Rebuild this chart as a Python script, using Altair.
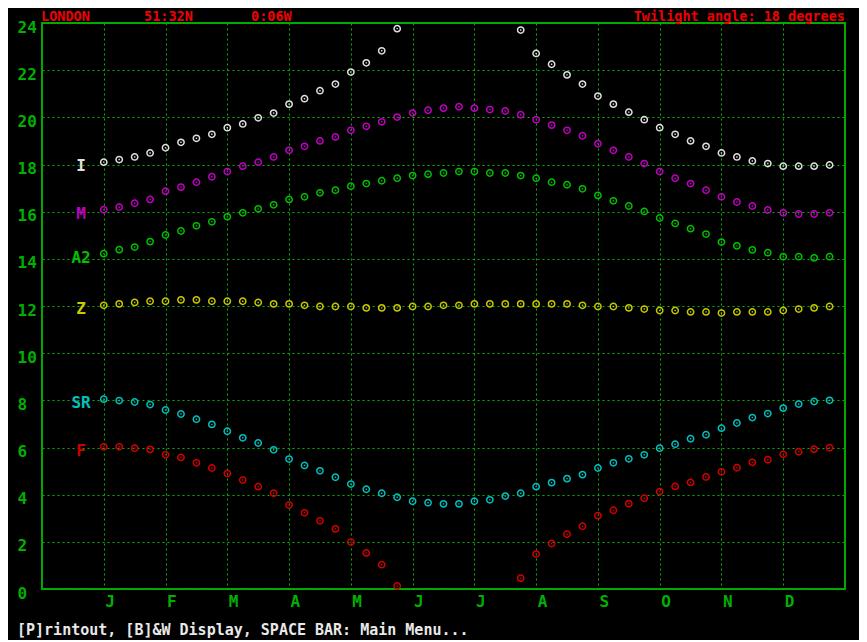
import json
import altair as alt
import pandas as pd

# ---- data ----
series = ["I", "M", "A2", "Z", "SR", "F"]
colors = ["#e0e0e0", "#c000c0", "#00c000", "#c8c800", "#00c0c0", "#d00000"]

months = ["J", "F", "M", "A", "M", "J", "J", "A", "S", "O", "N", "D"]

week = [1.0, 1.25, 1.5, 1.75, 2.0, 2.25, 2.5, 2.75, 3.0, 3.25, 3.5, 3.75,
        4.0, 4.25, 4.5, 4.75, 5.0, 5.25, 5.5, 5.75, 6.0, 6.25, 6.5, 6.75,
        7.0, 7.25, 7.5, 7.75, 8.0, 8.25, 8.5, 8.75, 9.0, 9.25, 9.5, 9.75,
        10.0, 10.25, 10.5, 10.75, 11.0, 11.25, 11.5, 11.75, 12.0, 12.25, 12.5, 12.75]

I_vals = [18.10, 18.21, 18.32, 18.49, 18.71, 18.94, 19.11, 19.28, 19.56, 19.72, 19.98, 20.18,
          20.56, 20.79, 21.13, 21.41, 21.92, 22.31, 22.82, 23.76, None, None, None, None,
          None, None, None, 23.70, 22.71, 22.25, 21.80, 21.41, 20.90, 20.56, 20.22, 19.90,
          19.56, 19.28, 19.00, 18.77, 18.49, 18.32, 18.15, 18.04, 17.93, 17.93, 17.93, 17.98]

M_vals = [16.08, 16.19, 16.36, 16.52, 16.87, 17.04, 17.25, 17.48, 17.70, 17.93, 18.10, 18.32,
          18.60, 18.77, 19.00, 19.17, 19.45, 19.62, 19.81, 20.01, 20.18, 20.30, 20.39, 20.45,
          20.39, 20.33, 20.27, 20.11, 19.90, 19.67, 19.45, 19.22, 18.88, 18.60, 18.32, 18.04,
          17.70, 17.42, 17.19, 16.91, 16.63, 16.41, 16.24, 16.07, 15.95, 15.90, 15.90, 15.95]

A2_vals = [14.22, 14.39, 14.50, 14.73, 15.01, 15.18, 15.40, 15.57, 15.78, 15.95, 16.12, 16.29,
           16.52, 16.63, 16.80, 16.91, 17.08, 17.19, 17.31, 17.42, 17.53, 17.59, 17.64, 17.70,
           17.70, 17.64, 17.64, 17.53, 17.42, 17.25, 17.14, 16.97, 16.69, 16.46, 16.24, 16.01,
           15.73, 15.50, 15.28, 15.05, 14.71, 14.55, 14.38, 14.26, 14.09, 14.09, 14.04, 14.09]

Z_vals = [12.03, 12.09, 12.15, 12.20, 12.20, 12.26, 12.26, 12.20, 12.20, 12.20, 12.15, 12.09,
          12.09, 12.03, 11.98, 11.98, 11.98, 11.92, 11.92, 11.92, 11.98, 11.98, 12.03, 12.03,
          12.09, 12.09, 12.09, 12.09, 12.09, 12.09, 12.09, 12.03, 11.98, 11.98, 11.92, 11.87,
          11.81, 11.81, 11.75, 11.75, 11.70, 11.75, 11.75, 11.75, 11.81, 11.87, 11.92, 11.98]

SR_vals = [8.05, 7.99, 7.93, 7.82, 7.59, 7.42, 7.20, 6.98, 6.69, 6.41, 6.19, 5.90,
           5.51, 5.24, 5.01, 4.74, 4.45, 4.23, 4.06, 3.89, 3.72, 3.66, 3.61, 3.61,
           3.72, 3.78, 3.94, 4.06, 4.34, 4.51, 4.68, 4.85, 5.13, 5.35, 5.52, 5.69,
           5.97, 6.14, 6.37, 6.54, 6.82, 7.04, 7.27, 7.44, 7.67, 7.84, 7.95, 8.00]

F_vals = [6.03, 6.03, 5.97, 5.92, 5.69, 5.58, 5.35, 5.13, 4.90, 4.62, 4.34, 4.06,
          3.56, 3.23, 2.89, 2.55, 1.99, 1.53, 1.03, 0.13, None, None, None, None,
          None, None, None, 0.46, 1.48, 1.93, 2.32, 2.66, 3.11, 3.34, 3.62, 3.85,
          4.13, 4.35, 4.52, 4.75, 4.97, 5.14, 5.37, 5.48, 5.71, 5.82, 5.93, 5.99]

y_ticks = [0, 2, 4, 6, 8, 10, 12, 14, 16, 18, 20, 22, 24]

header_place = ["LONDON", "51:32N", "0:06W"]
header_right = "Twilight angle: 18 degrees"
footer = "[P]rintout, [B]&W Display, SPACE BAR: Main Menu..."

# ---- build table ----
rows = []
for name, vals in zip(series, [I_vals, M_vals, A2_vals, Z_vals, SR_vals, F_vals]):
    for w, v in zip(week, vals):
        if v is not None:
            rows.append({"series": name, "week": w, "value": v})
df = pd.DataFrame(rows)

FONT = "DejaVu Sans Mono"
GRID = "#00b400"
LABEL_GREEN = "#00b000"
month_expr = json.dumps(months) + "[datum.value - 1]"

color = alt.Color("series:N", scale=alt.Scale(domain=series, range=colors), legend=None)

x_enc = alt.X("week:Q", title=None,
              scale=alt.Scale(domain=[0, 13], nice=False, zero=False),
              axis=alt.Axis(values=list(range(1, 13)), labelExpr=month_expr,
                            grid=True, gridColor=GRID, gridDash=[2, 3], gridWidth=1,
                            domain=False, ticks=False, labelAlign="left",
                            labelBaseline="middle", labelPadding=12, labelOffset=1,
                            labelColor=LABEL_GREEN, labelFont=FONT, labelFontSize=16,
                            labelFontWeight="bold", labelFlush=False))
y_enc = alt.Y("value:Q", title=None,
              scale=alt.Scale(domain=[0, 24], nice=False, zero=True),
              axis=alt.Axis(values=y_ticks, grid=True, gridColor=GRID, gridDash=[2, 3],
                            gridWidth=1, domain=False, ticks=False, labelAlign="left",
                            labelBaseline="middle", labelPadding=25, labelOffset=4,
                            labelColor=LABEL_GREEN, labelFont=FONT, labelFontSize=16,
                            labelFontWeight="bold", labelFlush=False))

base = alt.Chart(df)

rings = base.mark_point(shape="circle", filled=False, size=40, strokeWidth=1.5,
                        opacity=1).encode(x=x_enc, y=y_enc, color=color)
dots = base.mark_point(shape="square", filled=True, size=2, opacity=1).encode(
    x="week:Q", y="value:Q", color=color)

labels = base.transform_filter("datum.week == 1").mark_text(
    font=FONT, fontSize=16, fontWeight="bold", align="center", baseline="middle", dy=4
).encode(x=alt.value(39), y="value:Q", text="series:N", color=color)

def txt(t, px, py, align, col, size=15, baseline="middle"):
    return alt.Chart(pd.DataFrame({"t": [t]})).mark_text(
        font=FONT, fontSize=size, fontWeight="bold", align=align, baseline=baseline,
        color=col).encode(x=alt.value(px), y=alt.value(py), text="t:N")

RED = "#f00000"
HY = -6.5
h1 = txt(header_place[0], -1, HY, "left", RED, size=13.5)
h2 = txt(header_place[1], 102, HY, "left", RED, size=13.5)
h3 = txt(header_place[2], 209, HY, "left", RED, size=13.5)
h4 = txt(header_right, 803, HY, "right", RED, size=13.5)
foot = txt(footer, -25, 612, "left", "#e8e8e8", size=15, baseline="alphabetic")

chart = alt.layer(rings, dots, labels, h1, h2, h3, h4, foot).properties(
    width=803, height=566,
    autosize=alt.AutoSizeParams(type="none"),
    padding={"left": 34, "top": 15, "right": 14, "bottom": 51},
    background="#000000",
).configure_view(stroke="#00a800", strokeWidth=2)

chart.save("out.html", embed_options={"renderer": "svg", "actions": False})
